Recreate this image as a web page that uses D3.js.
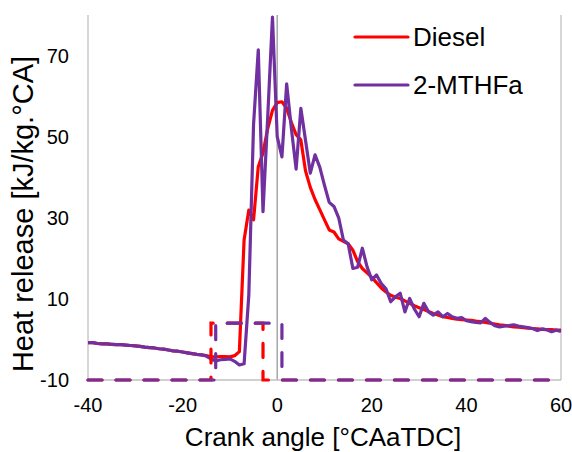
<!DOCTYPE html>
<html lang="en">
	<head>
		<meta charset="utf-8">
		<title>Heat release</title>
		<script src="https://d3js.org/d3.v7.min.js"></script>
		<style type="text/css">
			body { margin: 0; background: #fff; }
			text { font-family: "Liberation Sans", Arial, sans-serif; fill: #000; }
		</style>
	</head>
	<body>
		<script type="text/javascript">

			// crank angle, 1 degree steps
			var angles = d3.range(-40, 61);

			var diesel = [
				-0.8, -0.8, -1.0, -1.1, -1.1, -1.2, -1.3, -1.3, -1.4, -1.5,
				-1.6, -1.7, -1.9, -2.0, -2.1, -2.3, -2.4, -2.6, -2.8, -2.9,
				-3.1, -3.3, -3.5, -3.7, -3.8, -4.0, -4.3, -4.3, -4.2, -4.2,
				-4.3, -4.0, -3.0, 24.5, 31.9, 29.5, 42.6, 46.0, 52.0, 56.5,
				58.4, 58.6, 57.0, 53.5, 50.5, 49.2, 41.5, 37.5, 34.5, 32.0,
				29.5, 27.0, 26.5, 24.8, 24.2, 23.6, 22.0, 19.2, 17.5, 16.4,
				15.3, 14.0, 12.7, 11.7, 10.9, 10.4, 10.1, 9.5, 8.9, 8.3,
				7.8, 7.4, 6.9, 6.4, 6.0, 5.6, 5.4, 5.2, 5.0, 4.9,
				4.8, 4.7, 4.5, 4.4, 4.2, 4.0, 3.8, 3.6, 3.5, 3.3,
				3.1, 3.0, 2.9, 2.8, 2.7, 2.6, 2.5, 2.4, 2.4, 2.3,
				2.3
			];

			var mthf = [
				-0.8, -0.8, -1.0, -1.1, -1.1, -1.2, -1.3, -1.3, -1.4, -1.5,
				-1.6, -1.7, -1.9, -2.0, -2.1, -2.3, -2.4, -2.6, -2.8, -2.9,
				-3.1, -3.3, -3.5, -3.7, -3.8, -4.1, -4.8, -5.3, -5.0, -4.9,
				-4.8, -5.4, -6.3, -6.0, 11.0, 53.0, 71.4, 31.5, 55.0, 79.5,
				50.0, 45.0, 63.0, 52.0, 42.0, 57.0, 49.0, 41.0, 45.5, 42.5,
				38.0, 33.8, 32.8, 30.0, 24.5, 23.6, 17.5, 17.8, 22.5, 17.9,
				14.7, 15.9, 13.8, 12.5, 9.3, 10.5, 11.4, 6.8, 10.1, 7.5,
				5.6, 8.9, 6.8, 6.0, 6.8, 5.6, 6.4, 5.6, 5.2, 5.4,
				4.6, 4.4, 4.2, 4.1, 5.2, 4.2, 3.4, 3.1, 3.3, 3.4,
				3.6, 3.3, 3.1, 2.9, 2.7, 2.2, 2.6, 2.4, 1.9, 2.3,
				2.0
			];

			// injection signal traces (dashed)
			var dieselInjX = [-40, -14, -14, -3, -3, 60];
			var dieselInjY = [-10, -10, 4, 4, -10, -10];
			var mthfInjX = [-40, -13, -13, 1, 1, 60];
			var mthfInjY = [-10, -10, 4, 4, -10, -10];

			var xTicks = [-40, -20, 0, 20, 40, 60];
			var yTicks = [-10, 10, 30, 50, 70];
			var seriesNames = ["Diesel", "2-MTHFa"];
			var seriesColors = ["#ff0000", "#7030a0"];

			var w = 572;
			var h = 452;

			var svg = d3.select("body")
						.append("svg")
						.attr("width", w)
						.attr("height", h);

			var x = d3.scaleLinear().domain([-40, 60]).range([88, 561]);
			var y = d3.scaleLinear().domain([-10, 80]).range([380, 15]);

			// grey frame lines: left, vertical axis at 0, right
			svg.selectAll("line.v")
			   .data([-40, 0, 60])
			   .enter()
			   .append("line")
			   .attr("x1", function(d) { return x(d); })
			   .attr("x2", function(d) { return x(d); })
			   .attr("y1", y(80))
			   .attr("y2", y(-10))
			   .attr("stroke", function(d) { return d === 0 ? "#a6a6a6" : "#c8c8c8"; })
			   .attr("stroke-width", 1.5);

			svg.append("line")
			   .attr("x1", x(-40)).attr("x2", x(60))
			   .attr("y1", y(-10)).attr("y2", y(-10))
			   .attr("stroke", "#c0c0c0")
			   .attr("stroke-width", 1.5);

			// tick labels
			svg.selectAll("text.xt")
			   .data(xTicks)
			   .enter()
			   .append("text")
			   .attr("x", function(d) { return x(d); })
			   .attr("y", 412)
			   .attr("text-anchor", "middle")
			   .style("font-size", "20px")
			   .text(function(d) { return d; });

			svg.selectAll("text.yt")
			   .data(yTicks)
			   .enter()
			   .append("text")
			   .attr("x", 69)
			   .attr("y", function(d) { return y(d) + 7; })
			   .attr("text-anchor", "end")
			   .style("font-size", "20px")
			   .text(function(d) { return d; });

			// axis titles
			svg.append("text")
			   .attr("x", 323)
			   .attr("y", 446)
			   .attr("text-anchor", "middle")
			   .style("font-size", "26px")
			   .text("Crank angle [°CAaTDC]");

			svg.append("text")
			   .attr("transform", "translate(33,214) rotate(-90)")
			   .attr("text-anchor", "middle")
			   .style("font-size", "29px")
			   .text("Heat release [kJ/kg.°CA]");

			var line = d3.line()
						 .x(function(d) { return x(d[0]); })
						 .y(function(d) { return y(d[1]); });

			svg.append("path")
			   .attr("d", line(d3.zip(angles, diesel)))
			   .attr("fill", "none")
			   .attr("stroke", seriesColors[0])
			   .attr("stroke-width", 3.2)
			   .attr("stroke-linejoin", "round");

			svg.append("path")
			   .attr("d", line(d3.zip(angles, mthf)))
			   .attr("fill", "none")
			   .attr("stroke", seriesColors[1])
			   .attr("stroke-width", 3.2)
			   .attr("stroke-linejoin", "round");

			svg.append("path")
			   .attr("d", line(d3.zip(dieselInjX, dieselInjY)))
			   .attr("fill", "none")
			   .attr("stroke", seriesColors[0])
			   .attr("stroke-width", 3.2)
			   .attr("stroke-linecap", "round")
			   .attr("stroke-dasharray", "14,14");

			svg.append("path")
			   .attr("d", line(d3.zip(mthfInjX, mthfInjY)))
			   .attr("fill", "none")
			   .attr("stroke", seriesColors[1])
			   .attr("stroke-width", 3.2)
			   .attr("stroke-linecap", "round")
			   .attr("stroke-dasharray", "14,14");

			// legend
			var legend = svg.selectAll("g.legend")
							.data(seriesNames)
							.enter()
							.append("g")
							.attr("transform", function(d, i) { return "translate(355," + (37 + i * 48) + ")"; });

			legend.append("line")
				  .attr("x1", 0).attr("x2", 53)
				  .attr("stroke", function(d, i) { return seriesColors[i]; })
				  .attr("stroke-width", 3.2)
				  .attr("stroke-linecap", "round");

			legend.append("text")
				  .attr("x", 58)
				  .attr("y", 9)
				  .style("font-size", "26px")
				  .text(function(d) { return d; });
		</script>
	</body>
</html>
